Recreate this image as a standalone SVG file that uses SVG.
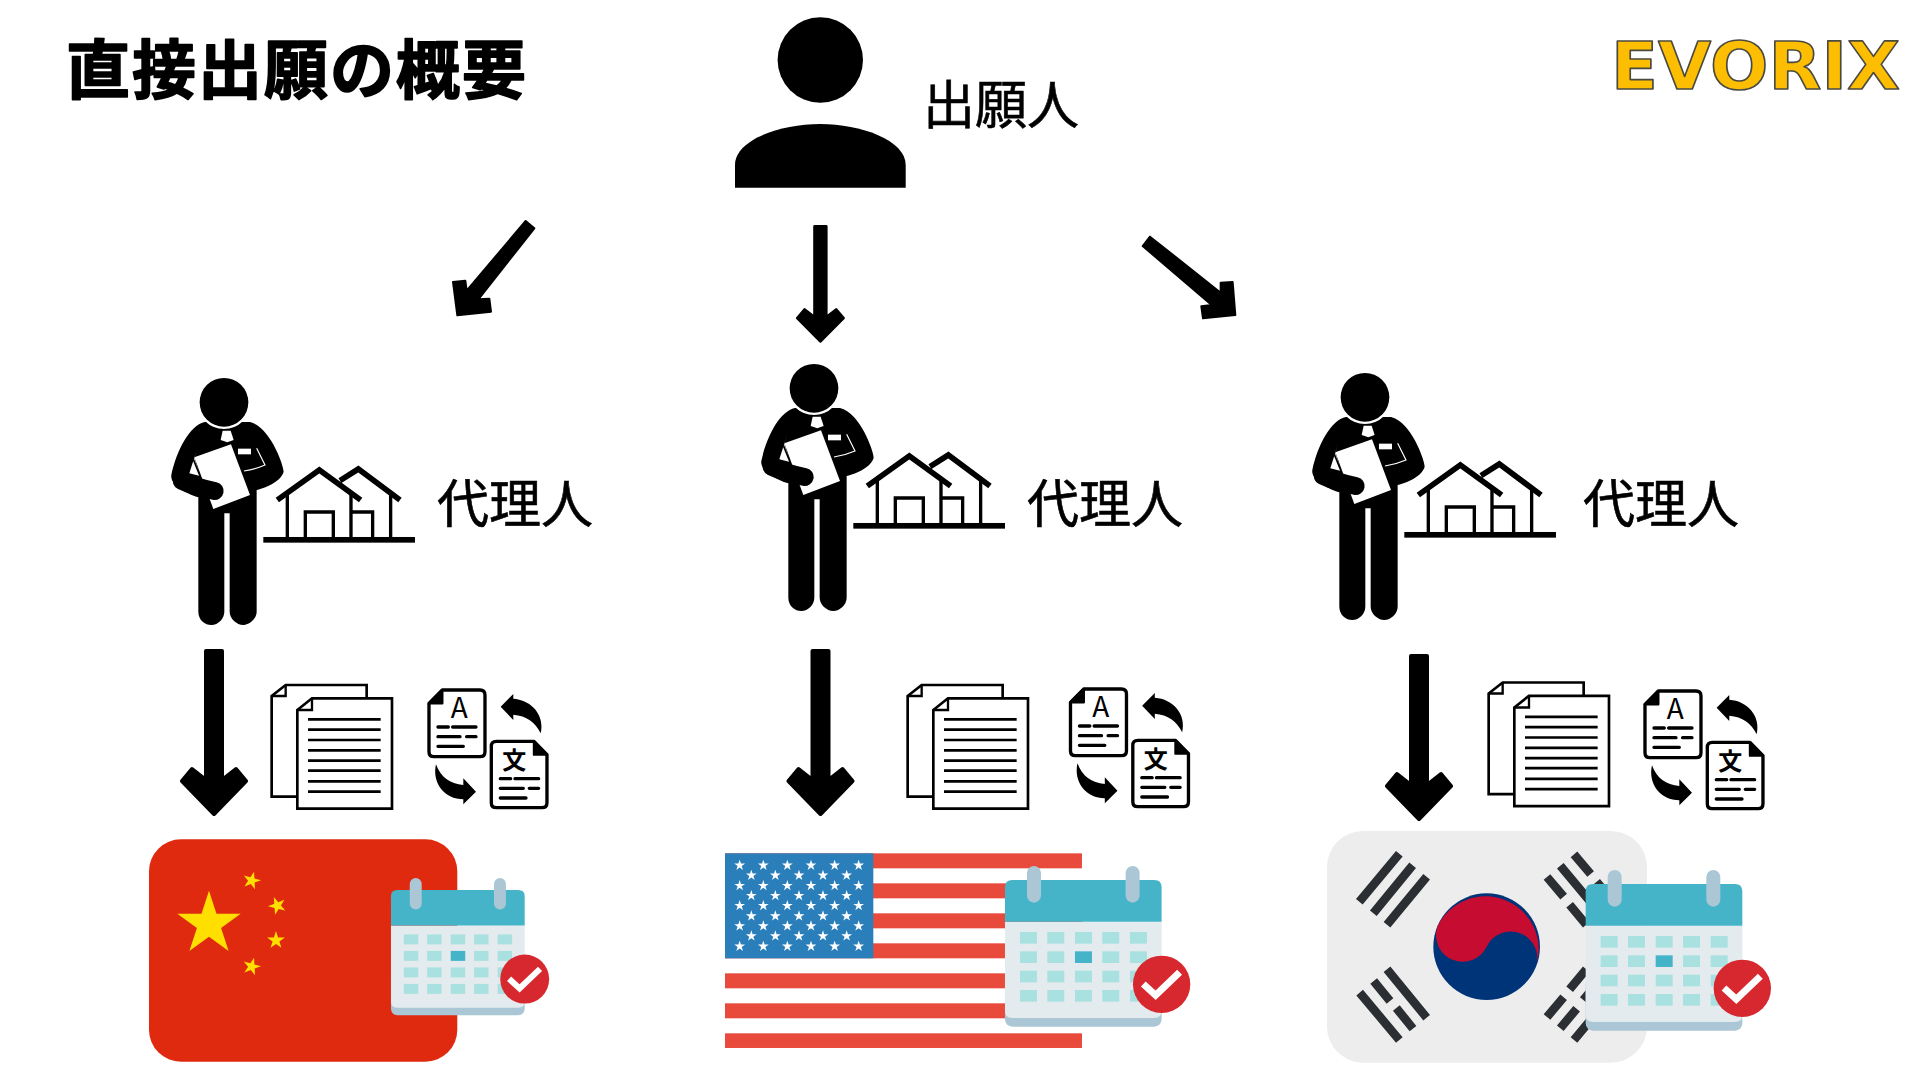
<svg xmlns="http://www.w3.org/2000/svg" xmlns:xlink="http://www.w3.org/1999/xlink" width="1920" height="1080" viewBox="0 0 1920 1080">
<style>
.ink{fill:#000}
.label{font-family:"Noto Sans CJK JP","Noto Sans",sans-serif;font-size:52px;fill:#000;stroke:#000;stroke-width:.6px}
.title{font-family:"Noto Sans CJK JP","Noto Sans",sans-serif;font-size:64px;font-weight:700;letter-spacing:2px;fill:#000;stroke:#000;stroke-width:1.6px;stroke-linejoin:round}
.logo{font-family:"DejaVu Sans",sans-serif;font-weight:700;font-size:66px;fill:#fdbd00;stroke:#4a4a40;stroke-width:1.6px;stroke-linejoin:round}
.arrow{fill:#000;stroke:#000;stroke-linejoin:round}
.line{fill:none;stroke:#000;stroke-width:10;stroke-linecap:round}
.house{fill:none;stroke:#000;stroke-width:10}
.roof{fill:none;stroke:#000;stroke-width:17}
.tri{fill:none;stroke:#2b2f33;stroke-width:26}
.cell{fill:#a9e1e0}
.glyph{font-family:"Noto Sans CJK JP","Liberation Sans",sans-serif;fill:#000;text-anchor:middle}
</style>
<defs>
<!-- unit five-point star -->
<polygon id="star" points="0,-1 .2245,-.309 .951,-.309 .363,.118 .588,.809 0,.382 -.588,.809 -.363,.118 -.951,-.309 -.2245,-.309"/>
<!-- canton star rows -->
<g id="row6" fill="#fff">
<use href="#star" transform="translate(89,0) scale(17)"/><use href="#star" transform="translate(160,0) scale(17)"/><use href="#star" transform="translate(232,0) scale(17)"/><use href="#star" transform="translate(303,0) scale(17)"/><use href="#star" transform="translate(374,0) scale(17)"/><use href="#star" transform="translate(446,0) scale(17)"/>
</g>
<g id="row5" fill="#fff">
<use href="#star" transform="translate(124,0) scale(17)"/><use href="#star" transform="translate(196,0) scale(17)"/><use href="#star" transform="translate(267,0) scale(17)"/><use href="#star" transform="translate(339,0) scale(17)"/><use href="#star" transform="translate(410,0) scale(17)"/>
</g>
<!-- standing figure with a clipboard -->
<g id="agent">
<path class="ink" d="M195,186C150,195 110,270 94,345C90,372 130,398 175,412V755C175,780 195,795 214,795C235,795 253,775 253,755V460H269V755C269,775 290,795 310,795C330,795 350,775 350,755V390C385,382 425,360 431,335C431,315 390,200 330,186Z"/>
<circle cx="252" cy="127" r="80" fill="#fff"/>
<circle cx="252" cy="127" r="73" class="ink"/>
<path fill="#fff" d="M248,212H272L281,240L262,247L242,240Z"/>
<rect x="294" y="266" width="39" height="17" fill="#fff"/>
<path fill="#fff" d="M172,265L148,340L180,348L163,292Z"/>
<path fill="none" stroke="#000" stroke-width="5" d="M160,298L182,352"/>
<path fill="none" stroke="#fff" stroke-width="3.5" d="M350,265L375,315Q345,328 312,333"/>
<polygon fill="#fff" points="163,292 273,253 330,405 220,447"/>
<path fill="none" stroke="#000" stroke-width="54" stroke-linecap="round" d="M125,362Q170,382 224,393"/>
</g>
<!-- pair of houses on a ground line -->
<g id="houses">
<rect x="370" y="531" width="455" height="17" class="ink"/>
<path class="house" d="M442,400V535M633,395V535M752,400V535M496,535V456H580V535M633,456H698V535"/>
<path class="roof" d="M412,420L538,330L662,420M600,362L655,327L780,420"/>
</g>
<!-- stacked sheets -->
<g id="docs">
<path d="M65,78L107,45H350V380H65Z" fill="#fff" stroke="#000" stroke-width="8"/>
<path d="M107,45V78H65" fill="none" stroke="#000" stroke-width="7"/>
<path d="M142,120L186,85H426V416H142Z" fill="#fff" stroke="#000" stroke-width="8"/>
<path d="M186,85V120H142" fill="none" stroke="#000" stroke-width="7"/>
<path fill="none" stroke="#000" stroke-width="8" d="M174,148H392M174,179H392M174,210H392M174,241H392M174,272H392M174,302H392M174,334H392M174,365H392"/>
</g>
<!-- sheets with a language swap -->
<g id="translate">
<path d="M577,60H690Q705,60 705,75V245Q705,260 690,260H552Q537,260 537,245V100Z" fill="#fff" stroke="#000" stroke-width="10" stroke-linejoin="round"/>
<path class="ink" d="M537,100L577,60V100Z" stroke="#000" stroke-width="7" stroke-linejoin="round"/>
<text x="628" y="145" class="glyph" font-size="84">A</text>
<path class="line" d="M564,171H595M608,171H678M564,200H630M650,200H678M564,229H640"/>
<path d="M852,214H739Q724,214 724,229V398Q724,413 739,413H876Q891,413 891,398V254Z" fill="#fff" stroke="#000" stroke-width="10" stroke-linejoin="round"/>
<path class="ink" d="M891,254L852,214V254Z" stroke="#000" stroke-width="7" stroke-linejoin="round"/>
<text x="793" y="298" class="glyph" font-size="72" font-weight="700">文</text>
<path class="line" d="M751,326H782M795,326H866M751,355H820M838,355H866M751,384H828"/>
<path class="ink" d="M790,86C845,90 885,135 872,190C855,155 830,138 790,134V150L752,110L790,72Z"/>
<path class="ink" d="M640,388C585,388 545,340 558,283C572,322 600,342 640,345V325L678,365L640,403Z"/>
</g>
<!-- calendar with tick badge -->
<g id="calendar">
<rect x="885" y="400" width="470" height="160" rx="22" fill="#abc7d6"/>
<path fill="#e4ebee" d="M885,245H1355V512Q1355,534 1333,534H907Q885,534 885,512Z"/>
<path fill="#45b4c9" d="M885,245V142Q885,120 907,120H1333Q1355,120 1355,142V245Z"/>
<rect x="951" y="78" width="42" height="110" rx="21" fill="#abc7d6"/>
<rect x="1247" y="78" width="42" height="110" rx="21" fill="#abc7d6"/>
<g class="cell">
<rect x="930" y="276" width="51" height="35"/><rect x="1012" y="276" width="51" height="35"/><rect x="1095" y="276" width="51" height="35"/><rect x="1177" y="276" width="51" height="35"/><rect x="1260" y="276" width="51" height="35"/>
<rect x="930" y="334" width="51" height="35"/><rect x="1012" y="334" width="51" height="35"/><rect x="1095" y="334" width="51" height="35" fill="#45b4c9"/><rect x="1177" y="334" width="51" height="35"/><rect x="1260" y="334" width="51" height="35"/>
<rect x="930" y="392" width="51" height="35"/><rect x="1012" y="392" width="51" height="35"/><rect x="1095" y="392" width="51" height="35"/><rect x="1177" y="392" width="51" height="35"/><rect x="1260" y="392" width="51" height="35"/>
<rect x="930" y="450" width="51" height="35"/><rect x="1012" y="450" width="51" height="35"/><rect x="1095" y="450" width="51" height="35"/><rect x="1177" y="450" width="51" height="35"/><rect x="1260" y="450" width="51" height="35"/>
</g>
<circle cx="1355" cy="433" r="86" fill="#d8282f"/>
<path d="M1300,432L1337,466L1409,397" fill="none" stroke="#fff" stroke-width="21"/>
</g>
<!-- shared downward arrow, tip at the origin -->
<polygon id="downArrow" class="arrow" stroke-width="4" points="0,-1 -32,-34 -22,-46 -8,-35 -8,-164 8,-164 8,-35 22,-46 32,-34"/>
</defs>

<rect width="1920" height="1080" fill="#fff"/>

<g id="heading"><text class="title" x="66" y="93">直接出願の概要</text></g>
<g id="brand"><text class="logo" x="1611" y="89" textLength="289" lengthAdjust="spacingAndGlyphs">EVORIX</text></g>

<g id="applicant">
<circle cx="820.3" cy="60" r="42.7" class="ink"/>
<path class="ink" d="M735,187.7V165C735,140 780,124 820.3,124C860.6,124 905.7,140 905.7,165V187.7Z"/>
<text class="label" x="923" y="124">出願人</text>
</g>

<g id="connectors">
<g transform="translate(430,210) scale(.3333)"><polygon class="arrow" stroke-width="6" points="287,33 313,55 145,268 178,266 183,305 82,316 69,216 106,212 110,242"/></g>
<use href="#downArrow" transform="translate(820.4,342) scale(.72,.705)"/>
<g transform="translate(1130,220) scale(.3333)"><polygon class="arrow" stroke-width="6" points="60,50 272,218 272,188 308,186 316,285 219,295 214,259 245,255 38,78"/></g>
<use href="#downArrow" transform="translate(214,815)"/>
<use href="#downArrow" transform="translate(820.5,815)"/>
<use href="#downArrow" transform="translate(1419,820)"/>
</g>

<g id="agent-cn">
<use href="#agent" transform="translate(140,360) scale(.3333)"/>
<use href="#houses" transform="translate(140,360) scale(.3333)"/>
<text class="label" x="437" y="523">代理人</text>
</g>
<g id="agent-us">
<use href="#agent" transform="translate(730,346) scale(.3333)"/>
<use href="#houses" transform="translate(730,346) scale(.3333)"/>
<text class="label" x="1027" y="523">代理人</text>
</g>
<g id="agent-kr">
<use href="#agent" transform="translate(1281,355) scale(.3333)"/>
<use href="#houses" transform="translate(1281,355) scale(.3333)"/>
<text class="label" x="1583" y="523">代理人</text>
</g>

<g id="papers-cn">
<use href="#docs" transform="translate(250,670) scale(.3333)"/>
<use href="#translate" transform="translate(250,670) scale(.3333)"/>
</g>
<g id="papers-us">
<use href="#docs" transform="translate(886,670) scale(.3333)"/>
<use href="#translate" transform="translate(891.5,669) scale(.3333)"/>
</g>
<g id="papers-kr">
<use href="#docs" transform="translate(1467,667.5) scale(.3333)"/>
<use href="#translate" transform="translate(1466,671) scale(.3333)"/>
</g>

<g id="flag-cn" transform="translate(130,830) scale(.3333)">
<rect x="57" y="28" width="925" height="667" rx="96" fill="#e02a10"/>
<g fill="#ffdf00">
<use href="#star" transform="translate(237,282) scale(100)"/>
<use href="#star" transform="translate(365,152) rotate(15) scale(28)"/>
<use href="#star" transform="translate(442,227) rotate(-22) scale(28)"/>
<use href="#star" transform="translate(438,331) rotate(0) scale(28)"/>
<use href="#star" transform="translate(365,410) rotate(15) scale(28)"/>
</g>
</g>
<g id="calendar-cn"><use href="#calendar" transform="translate(139.2,855.9) scale(.2845)"/></g>

<g id="flag-us" transform="translate(710,840) scale(.3333)">
<g fill="#e84b3c">
<rect x="45" y="40" width="1071" height="45"/><rect x="45" y="130" width="1071" height="45"/><rect x="45" y="220" width="1071" height="45"/><rect x="45" y="310" width="1071" height="45"/><rect x="45" y="400" width="1071" height="45"/><rect x="45" y="490" width="1071" height="45"/><rect x="45" y="580" width="1071" height="44"/>
</g>
<rect x="45" y="40" width="445" height="315" fill="#2a7fbb"/>
<use href="#row6" y="76"/><use href="#row5" y="106"/><use href="#row6" y="137"/><use href="#row5" y="167"/><use href="#row6" y="197"/><use href="#row5" y="228"/><use href="#row6" y="258"/><use href="#row5" y="288"/><use href="#row6" y="319"/>
</g>
<g id="calendar-us"><use href="#calendar" transform="translate(710,840) scale(.3333)"/></g>

<g id="flag-kr" transform="translate(1310,820) scale(.3333)">
<rect x="51" y="33" width="960" height="695" rx="108" fill="#ededed"/>
<path class="tri" d="M148,245L268,101M190,280L308,136M231,314L350,170"/>
<path class="tri" d="M149,518L268,660M191,483L240,543M259,564L309,626M231,448L350,593"/>
<path class="tri" d="M792,103L842,162M860,185L910,245M751,137L870,280M711,171L761,230M779,254L829,314"/>
<path class="tri" d="M711,591L761,532M779,508L829,448M751,625L800,566M820,540L870,480M792,660L842,600M860,575L910,515"/>
<circle cx="530" cy="380" r="160" fill="#003478"/>
<path fill="#c60c30" d="M382,320A160,160 0 0 1 678,440A80,80 0 0 0 530,380A80,80 0 0 1 382,320Z"/>
</g>
<g id="calendar-kr"><use href="#calendar" transform="translate(1290.7,844) scale(.3333)"/></g>
</svg>
